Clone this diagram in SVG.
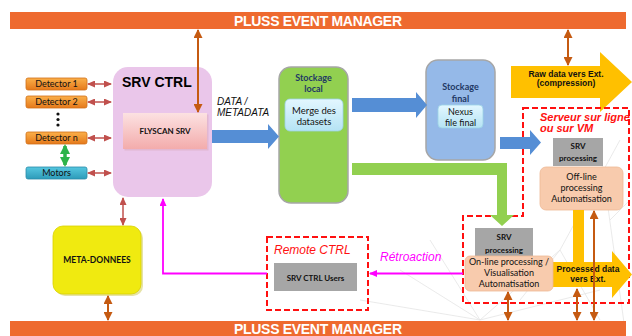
<svg xmlns="http://www.w3.org/2000/svg" width="632" height="336" viewBox="0 0 632 336">
<defs>
<style>
.bar{fill:#EE6A2F}
.bartxt{font-family:"Liberation Sans",Arial,sans-serif;font-weight:bold;font-size:14px;fill:#fff;text-anchor:middle}
.br{stroke:#C0504D;stroke-width:1.5;fill:none;marker-start:url(#mb);marker-end:url(#mb)}
.or{stroke:#C55A11;stroke-width:2;fill:none;marker-start:url(#mo);marker-end:url(#mo)}
.cal{font-family:Lato,"Open Sans","Liberation Sans",sans-serif;fill:#111;text-anchor:middle}
.ar{font-family:"Liberation Sans",Arial,sans-serif}
.b{font-weight:bold}
.det{fill:url(#gDet);stroke:#D07018;stroke-width:0.8}
.gray{fill:#A6A6A6}
.peach{fill:#F8CBAD;stroke:#EDB996;stroke-width:0.8}
.dash{fill:none;stroke:#FF1010;stroke-width:2;stroke-dasharray:6 3}
.red{fill:#FF1010;font-style:italic}
.mag{stroke:#FF00FF;stroke-width:1.8;fill:none}
.bg{stroke:#e4e4e4;stroke-width:0.8;fill:none}
</style>
<linearGradient id="gDet" x1="0" y1="0" x2="0" y2="1"><stop offset="0" stop-color="#FBB04A"/><stop offset="1" stop-color="#E5791B"/></linearGradient>
<linearGradient id="gMot" x1="0" y1="0" x2="0" y2="1"><stop offset="0" stop-color="#56C7E0"/><stop offset="1" stop-color="#2D9BB9"/></linearGradient>
<linearGradient id="gFly" x1="0" y1="0" x2="0" y2="1"><stop offset="0" stop-color="#FCE2E2"/><stop offset="1" stop-color="#F3ACAC"/></linearGradient>
<linearGradient id="gCy" x1="0" y1="0" x2="0" y2="1"><stop offset="0" stop-color="#E3F7FF"/><stop offset="1" stop-color="#B5E3F4"/></linearGradient>
<marker id="mb" markerUnits="userSpaceOnUse" markerWidth="8" markerHeight="7" refX="7" refY="3.5" orient="auto-start-reverse"><path d="M0,0 L8,3.5 L0,7 z" fill="#C0504D"/></marker>
<marker id="mo" markerUnits="userSpaceOnUse" markerWidth="9" markerHeight="9" refX="8" refY="4.5" orient="auto-start-reverse"><path d="M0,0 L9,4.5 L0,9 z" fill="#C55A11"/></marker>
<marker id="mg" markerUnits="userSpaceOnUse" markerWidth="10" markerHeight="10" refX="8" refY="5" orient="auto-start-reverse"><path d="M0,0 L10,5 L0,10 z" fill="#2DB34A"/></marker>
<marker id="mm" markerUnits="userSpaceOnUse" markerWidth="8" markerHeight="7" refX="7" refY="3.5" orient="auto-start-reverse"><path d="M0,0 L8,3.5 L0,7 z" fill="#FF00FF"/></marker>
</defs>
<rect width="632" height="336" fill="#fff"/>
<g id="background">
<path class="bg" d="M480,320 L400,270 M480,320 L430,240 M480,320 L560,250 M480,320 L600,290 M480,320 L360,300 M560,250 L620,140 M560,250 L600,320 M560,250 L520,300 M610,220 L630,200 M600,150 L625,330"/>
</g>
<g id="top-bar"><rect class="bar" x="10" y="12" width="616" height="17"/><text class="bartxt" x="318" y="25.5" textLength="168">PLUSS EVENT MANAGER</text></g>
<g id="bottom-bar"><rect class="bar" x="10" y="321" width="616" height="15"/><text class="bartxt" x="318" y="334" textLength="168">PLUSS EVENT MANAGER</text></g>

<g id="srv-ctrl"><rect x="113" y="67" width="99" height="130" rx="15" fill="#EAC6EA"/><text class="ar b" x="122" y="87" font-size="14">SRV CTRL</text></g>
<g id="flyscan"><rect x="124.5" y="114.5" width="84" height="36" fill="#d9a8b8" opacity="0.5"/><rect x="123" y="113" width="84" height="36" fill="url(#gFly)"/><text class="cal b" x="165" y="134" font-size="8">FLYSCAN SRV</text></g>
<g id="detector-1"><rect class="det" x="26" y="78" width="61" height="12" rx="2"/><text class="cal" x="56.5" y="87.3" font-size="9">Detector 1</text></g>
<g id="detector-2"><rect class="det" x="26" y="96" width="61" height="12" rx="2"/><text class="cal" x="56.5" y="105.3" font-size="9">Detector 2</text></g>
<g id="dots"><circle cx="58" cy="114" r="1.6" fill="#111"/><circle cx="58" cy="119.5" r="1.6" fill="#111"/><circle cx="58" cy="125" r="1.6" fill="#111"/></g>
<g id="detector-n"><rect class="det" x="26" y="132" width="61" height="12" rx="2"/><text class="cal" x="56.5" y="141.3" font-size="9">Detector n</text></g>
<g id="motors"><rect x="26" y="167" width="61" height="12" rx="2" fill="url(#gMot)" stroke="#2A8CA8" stroke-width="0.8"/><text class="cal" x="56.5" y="176.3" font-size="9">Motors</text></g>
<g id="meta"><rect x="55" y="228" width="88" height="68" rx="10" fill="#b8b000" opacity="0.35"/><rect x="53" y="226" width="88" height="68" rx="10" fill="#F0EA10" stroke="#D9D200" stroke-width="0.8"/><text class="cal b" x="97" y="263" font-size="8.5">META-DONNEES</text></g>

<g id="stockage-local"><rect x="279" y="67" width="69" height="136" rx="12" fill="#92D050" stroke="#A6A6A6" stroke-width="1.5"/><text class="cal b" x="313.5" y="80.5" font-size="9" fill="#1F3864" style="fill:#1F3864">Stockage</text><text class="cal b" x="313.5" y="91.5" font-size="9" style="fill:#1F3864">local</text>
<rect x="285" y="99" width="58" height="32" rx="5" fill="url(#gCy)" stroke="#9CD3E6" stroke-width="0.8"/><text class="cal" x="314" y="113.5" font-size="9.5">Merge des</text><text class="cal" x="314" y="124.5" font-size="9.5">datasets</text></g>
<g id="stockage-final"><rect x="426" y="60" width="69" height="100" rx="12" fill="#95B9E8" stroke="#A6A6A6" stroke-width="1.5"/><text class="cal b" x="460.5" y="89.5" font-size="9" style="fill:#1F3864">Stockage</text><text class="cal b" x="460.5" y="101.5" font-size="9" style="fill:#1F3864">final</text>
<rect x="438" y="105" width="45" height="23" rx="4" fill="url(#gCy)" stroke="#9CD3E6" stroke-width="0.8"/><text class="cal" x="460.5" y="114.5" font-size="9">Nexus</text><text class="cal" x="460.5" y="125.5" font-size="9">file final</text></g>

<g id="raw-data"><polygon points="511,66 600,66 600,52 632,82 600,112 600,98 511,98" fill="#FFC000"/><text class="ar b" x="566" y="76.5" font-size="8.5" text-anchor="middle" fill="#111">Raw data vers Ext.</text><text class="ar b" x="566" y="86" font-size="8.5" text-anchor="middle" fill="#111">(compression)</text></g>

<g id="serveur-zone"><polygon class="dash" points="523,108 629,108 629,303 463,303 463,216 523,216"/><text class="ar b red" x="540" y="121" font-size="11">Serveur sur ligne</text><text class="ar b red" x="540" y="132" font-size="11">ou sur VM</text></g>
<g id="srv-processing-1"><rect class="gray" x="553" y="138" width="50" height="28"/><text class="cal b" x="578" y="148.5" font-size="8">SRV</text><text class="cal b" x="578" y="161" font-size="8">processing</text></g>
<g id="offline"><rect class="peach" x="540" y="167" width="83" height="43" rx="6"/><text class="cal" x="581.5" y="180" font-size="9">Off-line</text><text class="cal" x="581.5" y="191" font-size="9">processing</text><text class="cal" x="581.5" y="202" font-size="9">Automatisation</text></g>
<g id="processed-data"><polygon points="552,262 573,262 573,210 584,210 584,262 612,262 612,251 632,274.5 612,298 612,287 552,287" fill="#FFC000"/><text class="ar b" x="588" y="272" font-size="8.5" text-anchor="middle" fill="#111">Processed data</text><text class="ar b" x="588" y="282" font-size="8.5" text-anchor="middle" fill="#111">vers Ext.</text></g>
<g id="srv-processing-2"><rect class="gray" x="475" y="228" width="58" height="29"/><text class="cal b" x="504" y="240" font-size="8">SRV</text><text class="cal b" x="504" y="252.5" font-size="8">processing</text></g>
<g id="online"><rect class="peach" x="465" y="256" width="88" height="35" rx="5"/><text class="cal" x="509" y="264.5" font-size="9">On-line processing /</text><text class="cal" x="509" y="275.5" font-size="9">Visualisation</text><text class="cal" x="509" y="286.5" font-size="9">Automatisation</text></g>

<g id="remote-ctrl"><rect class="dash" x="267" y="237" width="101" height="73"/><text class="ar red" x="274" y="254" font-size="12">Remote CTRL</text><rect class="gray" x="274" y="263" width="83" height="28"/><text class="cal b" x="315.5" y="280.5" font-size="8">SRV CTRL Users</text></g>

<g id="connectors">
<line class="br" x1="88" y1="84" x2="111" y2="84"/>
<line class="br" x1="88" y1="102" x2="111" y2="102"/>
<line class="br" x1="88" y1="138" x2="111" y2="138"/>
<line class="br" x1="88" y1="173" x2="111" y2="173"/>
<line x1="65" y1="146" x2="65" y2="165" stroke="#2DB34A" stroke-width="3.5" marker-start="url(#mg)" marker-end="url(#mg)"/>
<line class="or" x1="198" y1="30" x2="198" y2="112"/>
<line class="or" x1="568" y1="30" x2="568" y2="65"/>
<line class="br" x1="123" y1="198" x2="123" y2="225"/>
<line class="or" x1="108" y1="296" x2="108" y2="320"/>
<line class="or" x1="508" y1="292" x2="508" y2="320"/>
<line class="or" x1="577" y1="289" x2="577" y2="320"/>
<line class="or" x1="594" y1="211" x2="594" y2="320"/>
<polygon points="212,130 268,130 268,124 279,136.5 268,149 268,143 212,143" fill="#558ED5"/>
<polygon points="352,98 416,98 416,92 427,105 416,118 416,112 352,112" fill="#558ED5"/>
<polygon points="500,137 530,137 530,130 541,142.5 530,155 530,149 500,149" fill="#558ED5"/>
<polygon points="352,163 507,163 507,215 514,215 502,226 490,215 497,215 497,175 352,175" fill="#92D050"/>
<polyline class="mag" points="267,273.5 163,273.5 163,199" marker-end="url(#mm)"/>
<line class="mag" x1="463" y1="273.5" x2="370" y2="273.5" marker-end="url(#mm)"/>
<text class="ar" x="380" y="261" font-size="12" font-style="italic" fill="#FF00FF">Rétroaction</text>
<text class="ar" x="217" y="105" font-size="10" font-style="italic" fill="#111">DATA /</text>
<text class="ar" x="217" y="116" font-size="10" font-style="italic" fill="#111">METADATA</text>
</g>
</svg>
